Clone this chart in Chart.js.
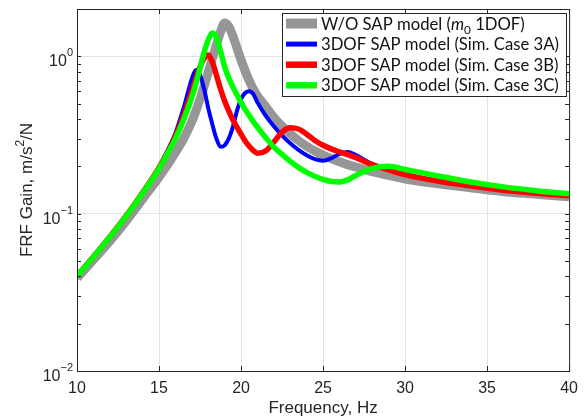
<!DOCTYPE html>
<html>
<head>
<meta charset="utf-8">
<title>FRF gain</title>
<script src="https://cdn.jsdelivr.net/npm/chart.js@4.4.1/dist/chart.umd.min.js"></script>
<style>
  html, body { margin: 0; padding: 0; background: #fff; }
</style>
</head>
<body>
<canvas id="frfChart" width="586" height="419"></canvas>
<script>
// excitation frequency, Hz
var freqHz = [10, 11, 12, 13, 14, 15, 15.5, 16, 16.5, 17, 17.25, 17.5, 17.75, 18, 18.25,
              18.5, 18.75, 19, 19.25, 19.5, 19.75, 20, 20.25, 20.5, 20.75, 21, 21.5, 22, 22.5, 23,
              23.5, 24, 24.5, 25, 25.5, 26, 26.5, 27, 28, 29, 30, 32, 34, 36, 38, 40];

// FRF gain, m/s^2/N
var gainNoSap = [0.039, 0.051, 0.067, 0.090, 0.124, 0.171, 0.203, 0.245, 0.30, 0.385, 0.45, 0.535, 0.645, 0.79, 0.97,
                 1.18, 1.43, 1.63, 1.55, 1.35, 1.13, 0.95, 0.81, 0.70, 0.62, 0.56, 0.48, 0.41, 0.36, 0.322,
                 0.292, 0.268, 0.250, 0.236, 0.224, 0.214, 0.205, 0.198, 0.185, 0.175, 0.166, 0.155, 0.146, 0.138, 0.133, 0.128];
var gainCase3A = [0.040, 0.0532, 0.0715, 0.0975, 0.137, 0.198, 0.25, 0.325, 0.47, 0.72, 0.82, 0.76, 0.62, 0.47, 0.37,
                  0.30, 0.266, 0.272, 0.30, 0.355, 0.45, 0.535, 0.585, 0.600, 0.575, 0.51, 0.42, 0.36, 0.315, 0.28,
                  0.254, 0.235, 0.222, 0.217, 0.225, 0.240, 0.247, 0.236, 0.207, 0.191, 0.178, 0.162, 0.150, 0.142, 0.135, 0.130];
var gainCase3B = [0.040, 0.0532, 0.0713, 0.097, 0.136, 0.196, 0.244, 0.31, 0.42, 0.60, 0.72, 0.86, 0.97, 1.02, 0.92,
                  0.76, 0.62, 0.52, 0.45, 0.395, 0.355, 0.32, 0.29, 0.268, 0.252, 0.242, 0.25, 0.285, 0.33, 0.352,
                  0.345, 0.32, 0.292, 0.272, 0.258, 0.247, 0.237, 0.227, 0.205, 0.19, 0.177, 0.161, 0.150, 0.141, 0.135, 0.130];
var gainCase3C = [0.040, 0.0531, 0.0711, 0.0965, 0.135, 0.193, 0.24, 0.30, 0.395, 0.55, 0.67, 0.84, 1.06, 1.27, 1.41,
                  1.32, 1.08, 0.86, 0.73, 0.64, 0.57, 0.51, 0.46, 0.42, 0.385, 0.355, 0.305, 0.265, 0.238, 0.215,
                  0.197, 0.183, 0.173, 0.165, 0.160, 0.159, 0.164, 0.175, 0.194, 0.200, 0.191, 0.174, 0.159, 0.148, 0.140, 0.134];

var freqTicks = [10, 15, 20, 25, 30, 35, 40];
var gainDecades = [0.01, 0.1, 1];

var seriesLabels = ['W/O SAP model (m0 1DOF)', '3DOF SAP model (Sim. Case 3A)',
                    '3DOF SAP model (Sim. Case 3B)', '3DOF SAP model (Sim. Case 3C)'];

var axisFont = '"Liberation Sans", Arial, sans-serif';
var legendFont = 'Lato, "Open Sans", sans-serif';
var ink = '#262626';

function points(values) {
  return freqHz.map(function (f, i) { return { x: f, y: values[i] }; });
}

// text made of runs with their own font and baseline shift
function drawRuns(ctx, runs, x, y, align) {
  var total = 0;
  runs.forEach(function (r) { ctx.font = r.font; r.w = ctx.measureText(r.t).width; total += r.w; });
  var cx = align === 'center' ? x - total / 2 : (align === 'right' ? x - total : x);
  ctx.textAlign = 'left';
  runs.forEach(function (r) { ctx.font = r.font; ctx.fillText(r.t, cx, y + (r.dy || 0)); cx += r.w; });
  return total;
}

function legendRuns(label, size) {
  var f = size.toFixed(2) + 'px ' + legendFont;
  if (label.indexOf('(m0') >= 0) {
    var head = label.split('(m0')[0] + '(';
    var tail = label.split('(m0')[1];
    return [
      { t: head, font: f },
      { t: 'm', font: 'italic ' + f },
      { t: '0', font: (size * 0.7).toFixed(2) + 'px ' + legendFont, dy: 4 },
      { t: tail, font: f }
    ];
  }
  return [{ t: label, font: f }];
}

var matlabFrame = {
  id: 'matlabFrame',
  afterDraw: function (chart) {
    var ctx = chart.ctx, a = chart.chartArea;
    var xs = chart.scales.x, ys = chart.scales.y;
    ctx.save();

    // axes box and inward ticks
    ctx.strokeStyle = ink;
    ctx.lineWidth = 1;
    ctx.strokeRect(a.left + 0.5, a.top + 0.5, a.right - a.left, a.bottom - a.top);
    ctx.beginPath();
    freqTicks.forEach(function (v) {
      var px = Math.round(xs.getPixelForValue(v)) + 0.5;
      ctx.moveTo(px, a.bottom); ctx.lineTo(px, a.bottom - 5);
      ctx.moveTo(px, a.top); ctx.lineTo(px, a.top + 5);
    });
    ys.ticks.forEach(function (t) {
      var py = Math.round(ys.getPixelForValue(t.value)) + 0.5;
      ctx.moveTo(a.left, py); ctx.lineTo(a.left + 4, py);
      ctx.moveTo(a.right, py); ctx.lineTo(a.right - 4, py);
    });
    ctx.stroke();

    // decade labels 10^n
    ctx.fillStyle = ink;
    ctx.textBaseline = 'alphabetic';
    gainDecades.forEach(function (v) {
      var py = ys.getPixelForValue(v);
      var e = Math.round(Math.log10(v));
      var expText = e < 0 ? '\u2212' + (-e) : String(e);
      drawRuns(ctx, [
        { t: '10', font: '16px ' + axisFont, dy: 10 },
        { t: expText, font: '11px ' + axisFont, dy: 0 }
      ], a.left - 4, py, 'right');
    });

    // axis titles
    drawRuns(ctx, [{ t: 'Frequency, Hz', font: '17px ' + axisFont }], (a.left + a.right) / 2, 413, 'center');
    ctx.save();
    ctx.translate(32, (a.top + a.bottom) / 2);
    ctx.rotate(-Math.PI / 2);
    drawRuns(ctx, [
      { t: 'FRF Gain, m/s', font: '17px ' + axisFont },
      { t: '2', font: '12px ' + axisFont, dy: -8 },
      { t: '/N', font: '17px ' + axisFont }
    ], 0, 0, 'center');
    ctx.restore();

    // legend
    var box = { left: 282.5, top: 13.5, right: 566.5, bottom: 96.5 };
    ctx.fillStyle = '#fff';
    ctx.fillRect(box.left, box.top, box.right - box.left, box.bottom - box.top);
    ctx.strokeStyle = ink;
    ctx.strokeRect(box.left, box.top, box.right - box.left, box.bottom - box.top);

    ctx.font = '100px ' + legendFont;
    var widest = 0;
    chart.data.datasets.forEach(function (d) { widest = Math.max(widest, ctx.measureText(d.label).width); });
    var size = 100 * 238 / widest;

    chart.data.datasets.forEach(function (d, i) {
      var ry = 23.5 + i * 20.6;
      ctx.strokeStyle = d.borderColor;
      ctx.lineWidth = d.borderWidth + 1;
      ctx.lineCap = 'butt';
      ctx.beginPath();
      ctx.moveTo(286, ry); ctx.lineTo(317, ry);
      ctx.stroke();
      ctx.fillStyle = '#111';
      drawRuns(ctx, legendRuns(d.label, size), 321, ry + size * 0.36, 'left');
    });
    ctx.restore();
  }
};

function series(label, values, color, width, order) {
  return {
    label: label, data: points(values), borderColor: color, borderWidth: width,
    order: order, pointRadius: 0, fill: false,
    cubicInterpolationMode: 'monotone', borderJoinStyle: 'round', borderCapStyle: 'butt'
  };
}

new Chart(document.getElementById('frfChart'), {
  type: 'line',
  data: {
    datasets: [
      series(seriesLabels[0], gainNoSap, '#969696', 9, 4),
      series(seriesLabels[1], gainCase3A, '#0000ff', 4, 3),
      series(seriesLabels[2], gainCase3B, '#ff0000', 5.5, 2),
      series(seriesLabels[3], gainCase3C, '#00ff00', 5.5, 1)
    ]
  },
  options: {
    responsive: false,
    animation: false,
    devicePixelRatio: 1,
    layout: { padding: { top: 9, right: 13, left: 0, bottom: 0 } },
    plugins: { legend: { display: false }, tooltip: { enabled: false } },
    scales: {
      x: {
        type: 'linear', min: 10, max: 40,
        afterBuildTicks: function (s) { s.ticks = freqTicks.map(function (v) { return { value: v }; }); },
        afterFit: function (s) { s.height = 48; },
        border: { display: false },
        grid: {
          drawTicks: false, lineWidth: 1,
          color: function (c) { return (c.tick && (c.tick.value === 10 || c.tick.value === 40)) ? 'rgba(0,0,0,0)' : '#e3e3e3'; }
        },
        ticks: { color: ink, font: { family: axisFont, size: 16 }, padding: 8, maxRotation: 0, autoSkip: false }
      },
      y: {
        type: 'logarithmic', min: 0.01, max: 2,
        afterBuildTicks: function (s) {
          var t = [];
          gainDecades.forEach(function (d) {
            for (var k = 1; k <= 9; k++) { if (d * k <= 2.0001) t.push({ value: d * k }); }
          });
          s.ticks = t;
        },
        afterFit: function (s) { s.width = 77; },
        border: { display: false },
        grid: {
          drawTicks: false, lineWidth: 1,
          color: function (c) {
            var v = c.tick ? c.tick.value : 0;
            return (Math.abs(v - 0.1) < 1e-9 || Math.abs(v - 1) < 1e-9) ? '#e3e3e3' : 'rgba(0,0,0,0)';
          }
        },
        ticks: { display: false }
      }
    }
  },
  plugins: [matlabFrame]
});
</script>
</body>
</html>
